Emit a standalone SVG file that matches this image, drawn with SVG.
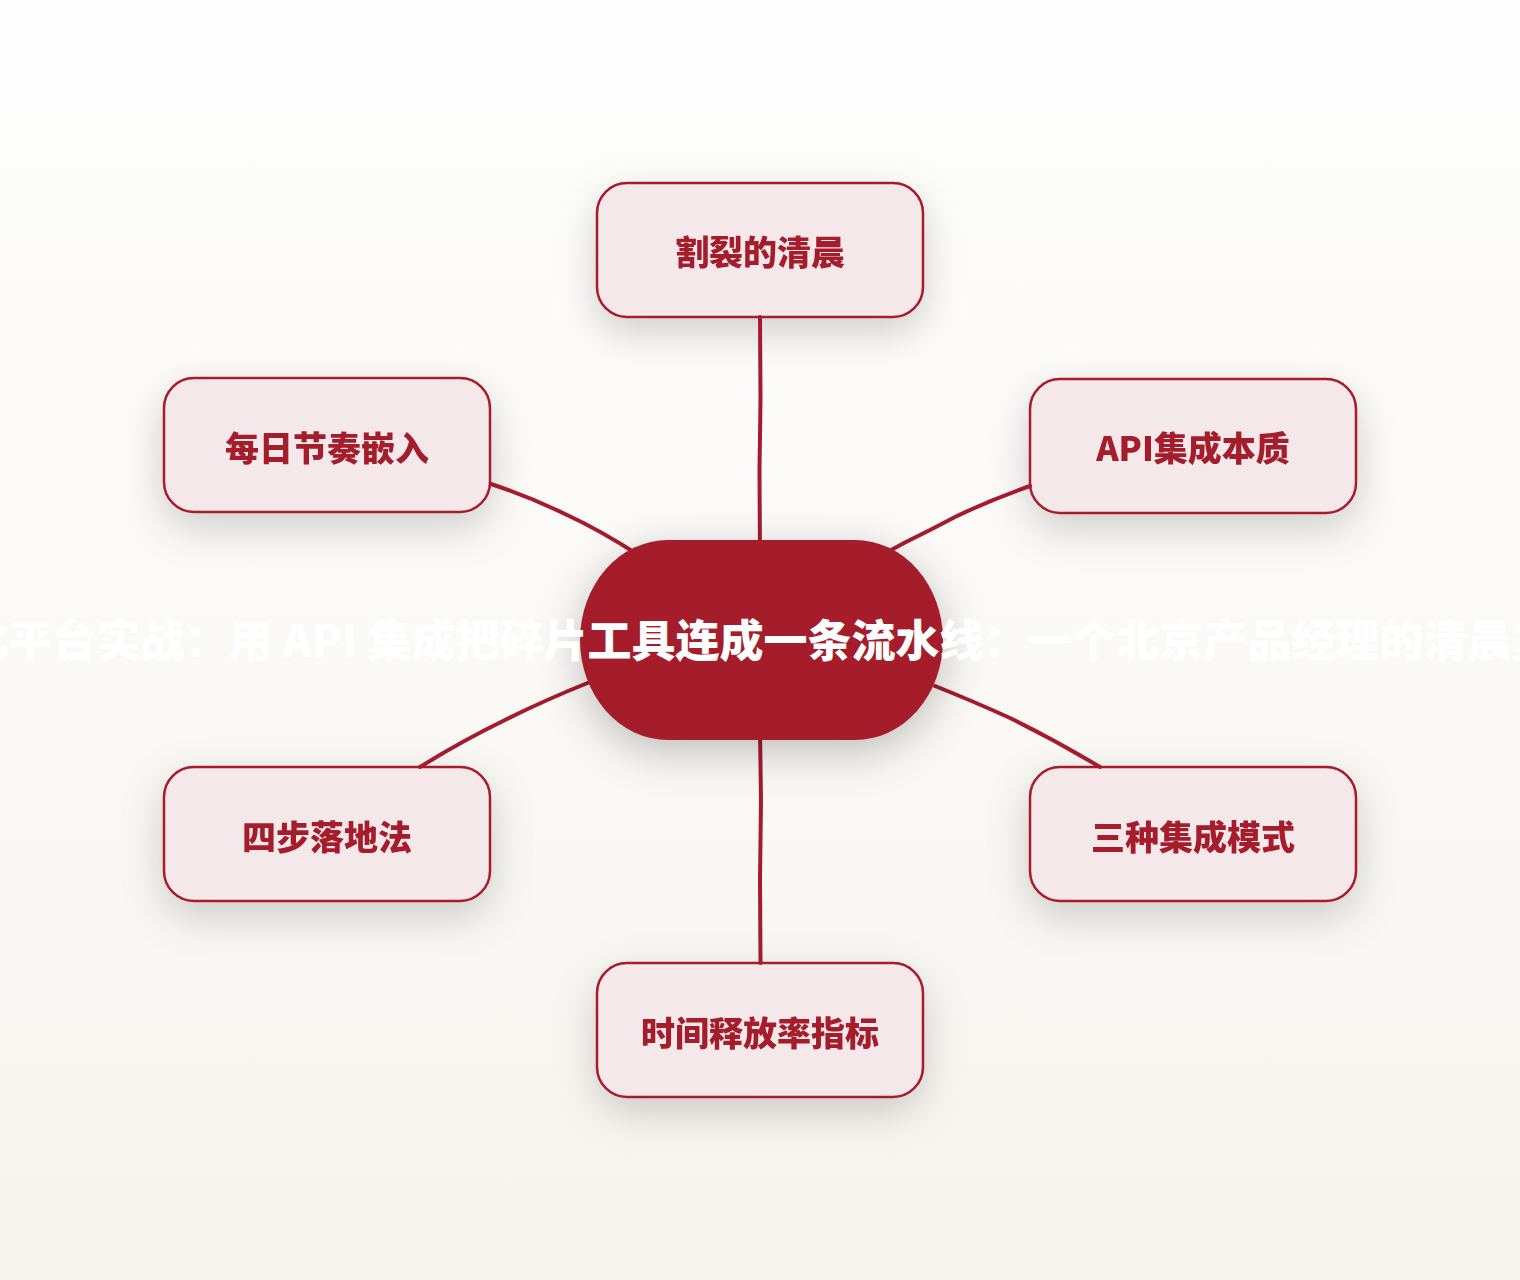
<svg xmlns="http://www.w3.org/2000/svg" width="1520" height="1280" viewBox="0 0 1520 1280">
<defs>
<linearGradient id="bg" x1="0" y1="0" x2="0" y2="1">
<stop offset="0" stop-color="#fefefe"/>
<stop offset="1" stop-color="#f7f4ef"/>
</linearGradient>
<filter id="sh" x="-40%" y="-40%" width="180%" height="200%">
<feDropShadow dx="0" dy="14" stdDeviation="20" flood-color="#000" flood-opacity="0.18"/>
</filter>
<filter id="shc" x="-40%" y="-40%" width="180%" height="190%">
<feDropShadow dx="0" dy="12" stdDeviation="22" flood-color="#000" flood-opacity="0.24"/>
</filter>
</defs>
<style>
.node rect{fill:#f5e8ea;stroke:#a51b2b;stroke-width:2.5}
.node text{fill:#a51b2b;font-family:"Noto Sans CJK SC","Noto Sans",sans-serif;font-weight:800;font-size:34px;text-anchor:middle}
.edge{fill:none;stroke:#a51b2b;stroke-width:4;stroke-linecap:round}
.title{fill:#ffffff;font-family:"Noto Sans CJK SC","Noto Sans",sans-serif;font-weight:800;font-size:44px;text-anchor:middle}
</style>
<rect width="1520" height="1280" fill="url(#bg)"/>
<g id="node-1" class="node" filter="url(#sh)">
<rect x="597" y="183" width="326" height="134" rx="30"/>
<text x="760" y="265">割裂的清晨</text>
</g>
<g id="node-2" class="node" filter="url(#sh)">
<rect x="1030" y="379" width="326" height="134" rx="30"/>
<text x="1193" y="461">API集成本质</text>
</g>
<g id="node-3" class="node" filter="url(#sh)">
<rect x="1030" y="767" width="326" height="134" rx="30"/>
<text x="1193" y="850">三种集成模式</text>
</g>
<g id="node-4" class="node" filter="url(#sh)">
<rect x="597" y="963" width="326" height="134" rx="30"/>
<text x="760" y="1046">时间释放率指标</text>
</g>
<g id="node-5" class="node" filter="url(#sh)">
<rect x="164" y="767" width="326" height="134" rx="30"/>
<text x="327" y="850">四步落地法</text>
</g>
<g id="node-6" class="node" filter="url(#sh)">
<rect x="164" y="378" width="326" height="134" rx="30"/>
<text x="327" y="461">每日节奏嵌入</text>
</g>
<g id="connectors">
<path class="edge" d="M760,317 L760.5,400 L759.5,470 L760,560"/>
<path class="edge" d="M1030,486 Q990,500 955,517 L930,530 Q905,542 880,556"/>
<path class="edge" d="M935,686 Q975,702 1010,718 Q1055,740 1100,767"/>
<path class="edge" d="M760,730 L761,800 L760,880 L760.5,963"/>
<path class="edge" d="M590,682 Q545,700 505,720 Q460,742 420,767"/>
<path class="edge" d="M491,484 Q530,497 565,514 Q600,530 640,556"/>
</g>
<g id="center">
<rect x="580" y="540" width="363" height="200" rx="88" ry="100" fill="#a51b2b" filter="url(#shc)"/>
<text class="title" x="760" y="657">化平台实战：用 API 集成把碎片工具连成一条流水线：一个北京产品经理的清晨复</text>
</g>
</svg>
